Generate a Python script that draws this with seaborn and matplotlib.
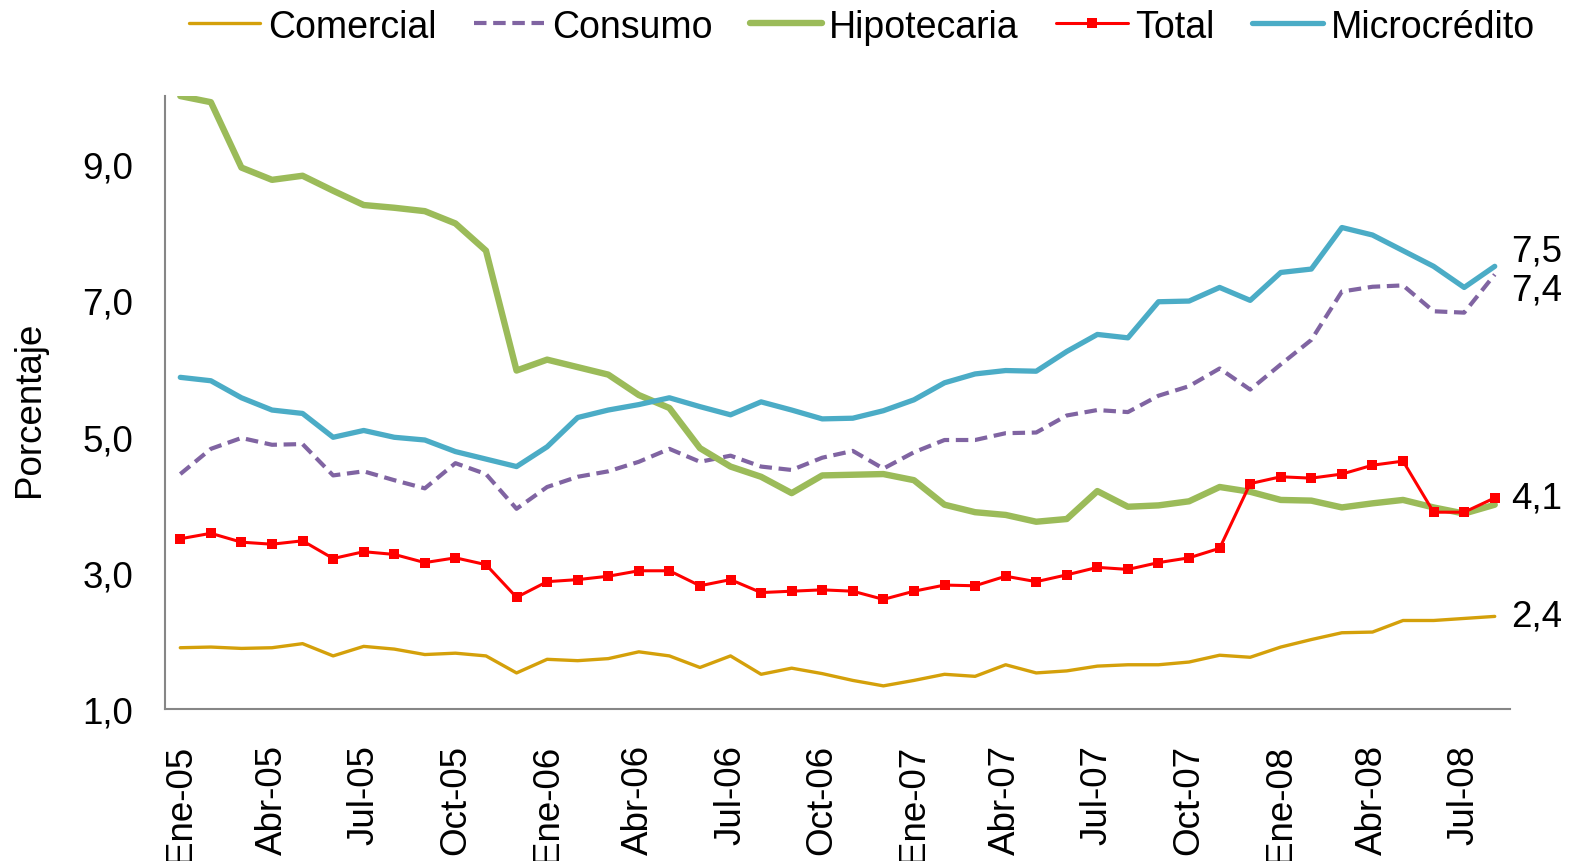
import numpy as np
import pandas as pd
import matplotlib
matplotlib.use('Agg')
import matplotlib.pyplot as plt
from matplotlib.ticker import FuncFormatter
import seaborn as sns

# ─── data (monthly, Ene-05 .. Ago-08) ─────────────────────
meses = ["Ene", "Feb", "Mar", "Abr", "May", "Jun", "Jul", "Ago", "Sep", "Oct", "Nov", "Dic"]
anios = ["05", "06", "07", "08"]
n_meses = 44

comercial = [1.90, 1.91, 1.89, 1.90, 1.96, 1.78, 1.92, 1.88, 1.80, 1.82, 1.78,
             1.53, 1.73, 1.71, 1.74, 1.84, 1.78, 1.61, 1.78, 1.51, 1.60, 1.52,
             1.42, 1.34, 1.42, 1.51, 1.48, 1.65, 1.53, 1.56, 1.63, 1.65, 1.65,
             1.69, 1.79, 1.76, 1.91, 2.02, 2.12, 2.13, 2.30, 2.30, 2.33, 2.36]
consumo = [4.45, 4.82, 4.98, 4.88, 4.89, 4.43, 4.49, 4.36, 4.24, 4.61, 4.45,
           3.94, 4.26, 4.41, 4.49, 4.63, 4.82, 4.63, 4.72, 4.56, 4.51, 4.69,
           4.79, 4.53, 4.77, 4.95, 4.95, 5.05, 5.06, 5.31, 5.39, 5.36, 5.60,
           5.74, 6.00, 5.69, 6.06, 6.42, 7.13, 7.20, 7.22, 6.84, 6.82, 7.38]
hipotecaria = [10.0, 9.91, 8.95, 8.77, 8.83, 8.61, 8.40, 8.36, 8.31, 8.13, 7.73,
               5.97, 6.13, 6.02, 5.91, 5.61, 5.42, 4.83, 4.56, 4.41, 4.17, 4.43,
               4.44, 4.45, 4.36, 4.00, 3.89, 3.85, 3.75, 3.79, 4.20, 3.97, 3.99,
               4.05, 4.26, 4.19, 4.07, 4.06, 3.96, 4.02, 4.07, 3.96, 3.87, 4.00]
total = [3.50, 3.58, 3.45, 3.42, 3.47, 3.21, 3.31, 3.27, 3.15, 3.22, 3.12,
         2.64, 2.87, 2.90, 2.95, 3.03, 3.03, 2.81, 2.90, 2.71, 2.73, 2.75,
         2.73, 2.61, 2.73, 2.82, 2.81, 2.95, 2.87, 2.97, 3.08, 3.05, 3.15,
         3.22, 3.36, 4.31, 4.41, 4.39, 4.45, 4.58, 4.64, 3.89, 3.89, 4.10]
microcredito = [5.87, 5.82, 5.57, 5.39, 5.34, 4.99, 5.09, 4.99, 4.95, 4.78, 4.67,
                4.56, 4.85, 5.28, 5.39, 5.47, 5.57, 5.44, 5.32, 5.51, 5.39, 5.26,
                5.27, 5.38, 5.54, 5.79, 5.92, 5.97, 5.96, 6.25, 6.50, 6.45, 6.98,
                6.99, 7.19, 7.00, 7.41, 7.46, 8.07, 7.96, 7.73, 7.50, 7.19, 7.50]

etiquetas = [f"{meses[i % 12]}-{anios[i // 12]}" for i in range(n_meses)]
idx = np.arange(n_meses)

# ─── style ───────────────────────────────────────────────
sns.set_style("white")
plt.rcParams['font.family'] = ['Liberation Sans', 'DejaVu Sans']
for k in ['text.color', 'axes.labelcolor', 'xtick.color', 'ytick.color']:
    plt.rcParams[k] = 'black'
FS = 26.5

fig = plt.figure(figsize=(15.7, 8.62), dpi=100)
ax = fig.add_axes([0.1051, 0.1763, 0.8567, 0.7111])

series = [
    ("Comercial", comercial, dict(color="#D4A00A", linewidth=2.4, zorder=3)),
    ("Consumo", consumo, dict(color="#8064A2", linewidth=3.0, linestyle=(0, (3, 1.6)), zorder=4)),
    ("Hipotecaria", hipotecaria, dict(color="#9BBB59", linewidth=4.6, zorder=5)),
    ("Total", total, dict(color="#FF0000", linewidth=2.2, marker="s", markersize=6.5,
                          markeredgewidth=0, zorder=7)),
    ("Microcrédito", microcredito, dict(color="#4BACC6", linewidth=3.8, zorder=6)),
]

for nombre, valores, kw in series:
    sns.lineplot(x=idx, y=valores, ax=ax, label=nombre, **kw)

# end-of-line value labels
finales = {"Microcrédito": (microcredito, 11), "Consumo": (consumo, -11),
           "Total": (total, 0), "Comercial": (comercial, 0)}
for nombre, (valores, dy) in finales.items():
    v = valores[-1]
    ax.annotate(f"{v:.1f}".replace(".", ","), (idx[-1], v), xytext=(12, dy),
                textcoords="offset points", ha="left", va="center",
                fontsize=FS, annotation_clip=False)

ax.set_xlim(-0.5, n_meses - 0.5)
ax.set_ylim(1, 10)
ax.set_yticks([1, 3, 5, 7, 9])
ax.yaxis.set_major_formatter(FuncFormatter(lambda v, p: f"{v:.1f}".replace(".", ",")))
ax.set_xticks(idx[::3])
ax.set_xticklabels(etiquetas[::3], rotation=90, va="top", ha="center")
ax.tick_params(axis="both", length=0, labelsize=FS)
ax.tick_params(axis="x", pad=25)
ax.tick_params(axis="y", pad=23)

ax.set_xlabel("")
ax.set_ylabel("Porcentaje", fontsize=FS)
ax.yaxis.set_label_coords(-0.088, 0.49)

for s in ["top", "right"]:
    ax.spines[s].set_visible(False)
for s in ["left", "bottom"]:
    ax.spines[s].set_color("#868686")
    ax.spines[s].set_linewidth(1.5)

handles, labels = ax.get_legend_handles_labels()
ax.get_legend().remove()
fig.legend(handles, labels, loc="center", bbox_to_anchor=(0.549, 0.968), ncol=5,
           frameon=False, fontsize=FS + 0.5, handlelength=1.9, handletextpad=0.2,
           columnspacing=1.0)

fig.savefig("out.png", dpi=100)
